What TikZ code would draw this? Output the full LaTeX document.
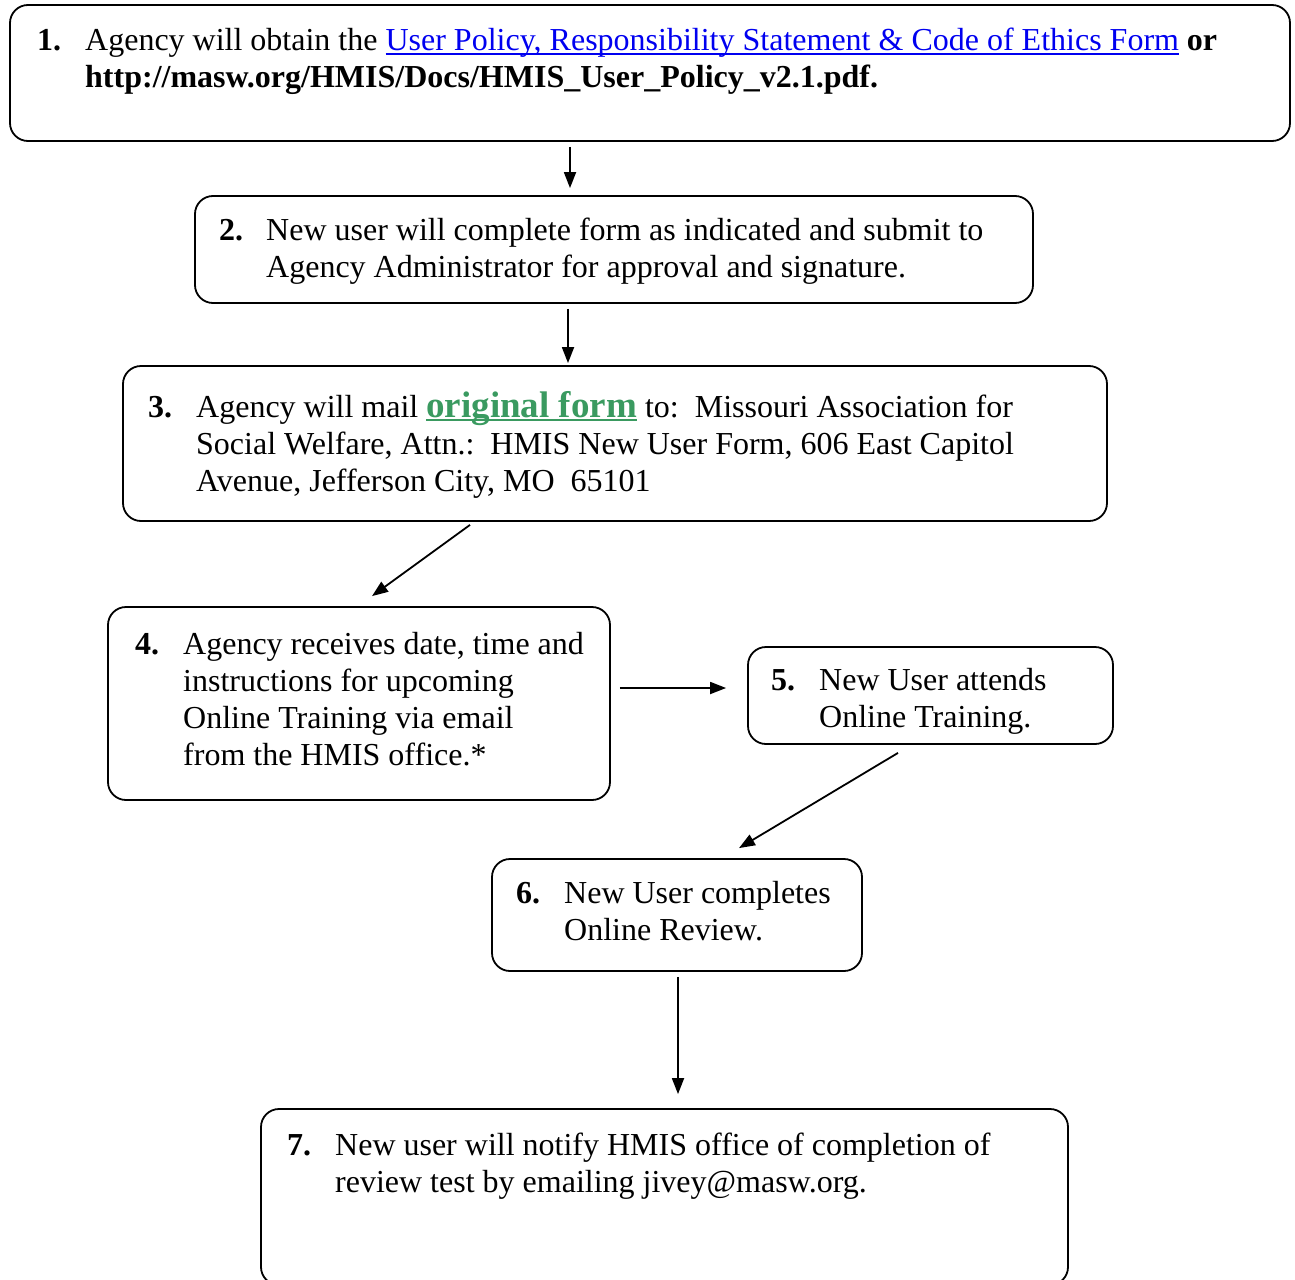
\documentclass[tikz,border=0pt]{standalone}
\usepackage{fontspec}
\setmainfont{Liberation Serif}
\usetikzlibrary{arrows.meta}
\definecolor{linkblue}{RGB}{0,0,240}
\definecolor{formgreen}{RGB}{58,154,96}
\newcommand\myul[2]{\setbox0\hbox{#2}\rlap{\color{#1}\rule[-4pt]{\wd0}{1.6pt}}\box0}
\newcommand\steptext[3]{\fontsize{32}{37}\selectfont\makebox[#1][l]{\textbf{#2}}\parbox[t]{1200pt}{#3}}
\tikzset{
  stepbox/.style={draw, line width=1.8pt, rounded corners=18pt, inner sep=0pt, fill=none},
  steplabel/.style={anchor=base west, inner sep=0pt},
  arr/.style={line width=1.8pt, -{Triangle[length=16pt,width=12pt]}}
}
\begin{document}
\begin{tikzpicture}[x=1pt,y=-1pt]
\useasboundingbox (0,0) rectangle (1295,1279);
\clip (0,0) rectangle (1295,1279);
% boxes
\node[stepbox, minimum width=1280pt, minimum height=136pt] (n1) at (650,73) {};
\node[stepbox, minimum width=838pt, minimum height=107pt] (n2) at (614,249.5) {};
\node[stepbox, minimum width=984pt, minimum height=155pt] (n3) at (615,443.5) {};
\node[stepbox, minimum width=502pt, minimum height=193pt] (n4) at (359,703.5) {};
\node[stepbox, minimum width=365pt, minimum height=97pt] (n5) at (930.5,695.5) {};
\node[stepbox, minimum width=370pt, minimum height=112pt] (n6) at (677,915) {};
\node[stepbox, minimum width=807pt, minimum height=176pt] (n7) at (664.5,1197) {};
% texts
\node[steplabel] (t1) at (37,51) {\steptext{48pt}{1.}{Agency will obtain the {\color{linkblue}\myul{linkblue}{User Policy, Responsibility Statement \& Code of Ethics Form}} \textbf{or}\\\textbf{http://masw.org/HMIS/Docs/HMIS\_User\_Policy\_v2.1.pdf.}}};
\node[steplabel] (t2) at (219,240) {\steptext{47pt}{2.}{New user will complete form as indicated and submit to\\Agency Administrator for approval and signature.}};
\node[steplabel] (t3) at (148,417) {\steptext{48pt}{3.}{Agency will mail {\fontsize{37}{37}\selectfont\bfseries\color{formgreen}\myul{formgreen}{original form}} to:\ \ Missouri Association for\\Social Welfare, Attn.:\ \ HMIS New User Form, 606 East Capitol\\Avenue, Jefferson City, MO\ \ 65101}};
\node[steplabel] (t4) at (135,654) {\steptext{48pt}{4.}{Agency receives date, time and\\instructions for upcoming\\Online Training via email\\from the HMIS office.*}};
\node[steplabel] (t5) at (771,690) {\steptext{48pt}{5.}{New User attends\\Online Training.}};
\node[steplabel] (t6) at (516,903) {\steptext{48pt}{6.}{New User completes\\Online Review.}};
\node[steplabel] (t7) at (287,1155) {\steptext{48pt}{7.}{New user will notify HMIS office of completion of\\review test by emailing jivey@masw.org.}};
% connectors
\draw[arr] ([shift={(-80,5)}]n1.south) -- ([shift={(-44,-7)}]n2.north);
\draw[arr] ([shift={(-46,5)}]n2.south) -- ([shift={(-47,-2)}]n3.north);
\draw[arr] ([shift={(-145,3)}]n3.south) -- ([shift={(13,-10)}]n4.north);
\draw[arr] ([shift={(9,-15.5)}]n4.east) -- ([shift={(-21,-7.5)}]n5.west);
\draw[arr] ([shift={(-32.5,8)}]n5.south) -- ([shift={(62,-10)}]n6.north);
\draw[arr] ([shift={(1,5)}]n6.south) -- ([shift={(13.5,-14)}]n7.north);
\end{tikzpicture}
\end{document}
